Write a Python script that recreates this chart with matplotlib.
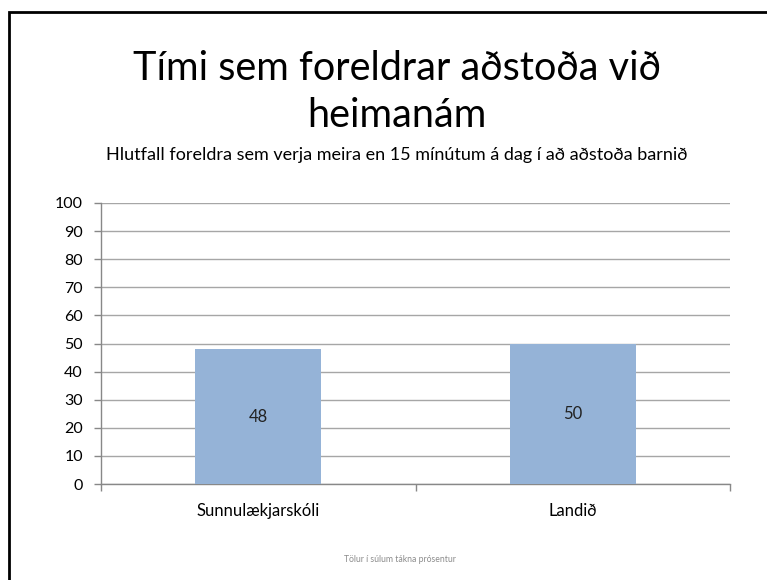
import matplotlib
matplotlib.use("Agg")
import matplotlib.pyplot as plt
from matplotlib.patches import Rectangle
from matplotlib.ticker import FixedLocator, MultipleLocator

categories = ["Sunnulækjarskóli", "Landið"]
values = [48, 50]
title = "Tími sem foreldrar aðstoða við\nheimanám"
subtitle = "Hlutfall foreldra sem verja meira en 15 mínútum á dag í að aðstoða barnið"
footer = "Tölur í súlum tákna prósentur"

plt.rcParams['font.family'] = ['Lato', 'DejaVu Sans']

fig = plt.figure(figsize=(7.67, 5.8), dpi=100)
ax = fig.add_axes([101/767, 1-484/580, 629/767, 281/580])

x = list(range(len(categories)))
bars = ax.bar(x, values, width=0.4, color="#95B3D7", zorder=3)
for b, v in zip(bars, values):
    ax.text(b.get_x() + b.get_width()/2, v/2, f"{v}", ha="center", va="center",
            fontsize=12, color="#222222", zorder=4)

ax.set_xlim(-0.5, len(categories)-0.5)
ax.set_ylim(0, 100)
ax.yaxis.set_major_locator(MultipleLocator(10))
ax.set_xticks(x)
ax.set_xticklabels(categories, fontsize=12)
ax.xaxis.set_minor_locator(FixedLocator([-0.5, 0.5, 1.5]))
ax.tick_params(axis='x', which='major', length=0, pad=14)
ax.tick_params(axis='x', which='minor', length=5, color="#888888", width=1)
ax.tick_params(axis='y', length=5, color="#888888", width=1, labelsize=11.5, pad=8)
ax.grid(axis='y', color="#A6A6A6", linewidth=1, zorder=0)
for s in ["top", "right"]:
    ax.spines[s].set_visible(False)
for s in ["left", "bottom"]:
    ax.spines[s].set_color("#888888")
    ax.spines[s].set_linewidth(1)
ax.set_axisbelow(True)

fig.text(0.517, 1-92/580, title, ha="center", va="center", fontsize=28.5,
         linespacing=1.35)
fig.text(0.517, 1-155/580, subtitle, ha="center", va="center", fontsize=13)
fig.text(0.521, 1-560/580, footer, ha="center", va="center", fontsize=6.2,
         color="#8C8C8C")

fig.patches.append(Rectangle((9/767, -0.1), 1.2, 1-12/580+0.1, transform=fig.transFigure,
                             fill=False, edgecolor="black", linewidth=2, figure=fig))

fig.savefig("out.png", dpi=100)
